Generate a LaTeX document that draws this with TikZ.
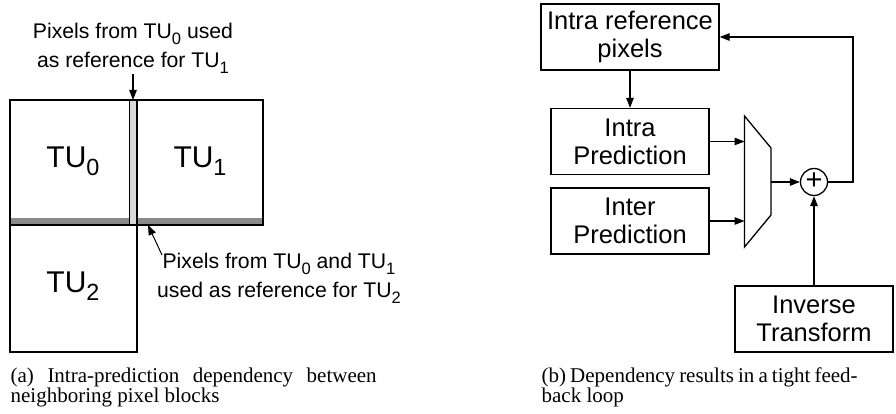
\documentclass[tikz,border=0pt]{standalone}
\usepackage{fontspec}
\usepackage{graphicx}
\setmainfont{Liberation Serif}
\newfontfamily\arialf{Liberation Sans}
\usetikzlibrary{arrows.meta,calc}
\definecolor{rowstrip}{gray}{0.54}
\definecolor{colstrip}{gray}{0.85}
% lowered, reduced digit used as a subscript in the sans labels
\newcommand\lowsub[1]{\raisebox{-0.28em}{\scalebox{0.78}{#1}}}
\begin{document}
\begin{tikzpicture}[x=1pt,y=-1pt,
  line width=1.3pt,
  arr/.style={-{Triangle[length=10pt,width=7.5pt]}},
  blocklbl/.style={font=\arialf\fontsize{30}{34}\selectfont},
  notelbl/.style={font=\arialf\fontsize{21.2}{29}\selectfont,align=center,inner sep=0pt},
  unit/.style={draw,minimum width=158pt,minimum height=66pt,inner sep=0pt,align=center,
    font=\arialf\fontsize{25.5}{28}\selectfont},
  caption/.style={font=\fontsize{21}{20}\selectfont,align=justify,inner sep=0pt,anchor=base west}]
\useasboundingbox (0,0) rectangle (896,414);

% ---------- (a) transform units and their reference pixels ----------
\fill[rowstrip] (10,218) rectangle (263,225);
\filldraw[fill=colstrip,line width=0.8pt] (129,100) rectangle (137,225);
\draw (10,100) rectangle (137,225);
\draw (137,100) rectangle (263,225);
\draw (10,225) rectangle (137,352);
\draw[line width=2pt] (10,225) -- (263,225);

\node[blocklbl] (tu0) at (73,161) {TU\lowsub{0}};
\node[blocklbl] (tu1) at (200,161) {TU\lowsub{1}};
\node[blocklbl] (tu2) at (73,286) {TU\lowsub{2}};

\node[notelbl] (lbl1) at (133,48) {Pixels from TU\lowsub{0} used\\as reference for TU\lowsub{1}};
\coordinate (colref) at (133,100);
\draw[arr] (lbl1.south) -- (colref);

\node[notelbl] (lbl2) at (279,278) {Pixels from TU\lowsub{0} and TU\lowsub{1}\\used as reference for TU\lowsub{2}};
\coordinate (rowtail) at (162,255);
\coordinate (rowref) at (148,225);
\draw[arr,line width=1pt] (rowtail) -- (rowref);

\node[caption,text width=366pt] (capa) at (10,382)
  {(a) Intra-prediction dependency between\linebreak neighboring pixel blocks};

% ---------- (b) reconstruction loop ----------
\node[unit,minimum width=178pt] (irp) at (630,37) {Intra reference\\pixels};
\node[unit] (intra) at (630,141.5) {Intra\\Prediction};
\node[unit] (inter) at (630,221) {Inter\\Prediction};
\node[unit] (inv) at (814,319) {Inverse\\Transform};

% selector
\coordinate (mtl) at (744.5,116);
\coordinate (mtr) at (771,148);
\coordinate (mbr) at (771,215);
\coordinate (mbl) at (744.5,247);
\draw (mtl) -- (mtr) -- (mbr) -- (mbl) -- cycle;
\coordinate (mout) at (771,182);

\node[draw,circle,minimum size=27pt,inner sep=0pt,font=\arialf\fontsize{29}{29}\selectfont] (sum) at (814,182) {\raisebox{0.04em}{+}};

\draw[arr] (irp.south) -- (intra.north);
\draw[arr] (intra.east) -- (intra.east -| mtl);
\draw[arr] (inter.east) -- (inter.east -| mtl);
\draw[arr] (mout) -- (sum.west);
\draw[arr] (inv.north) -- (sum.south);
\coordinate (loop) at (853,182);
\draw[arr] (sum.east) -- (loop) |- (irp.east);

\node[caption,text width=316pt] (capb) at (541,382)
  {(b) Dependency results in a tight feed-\linebreak back loop};
\end{tikzpicture}
\end{document}
